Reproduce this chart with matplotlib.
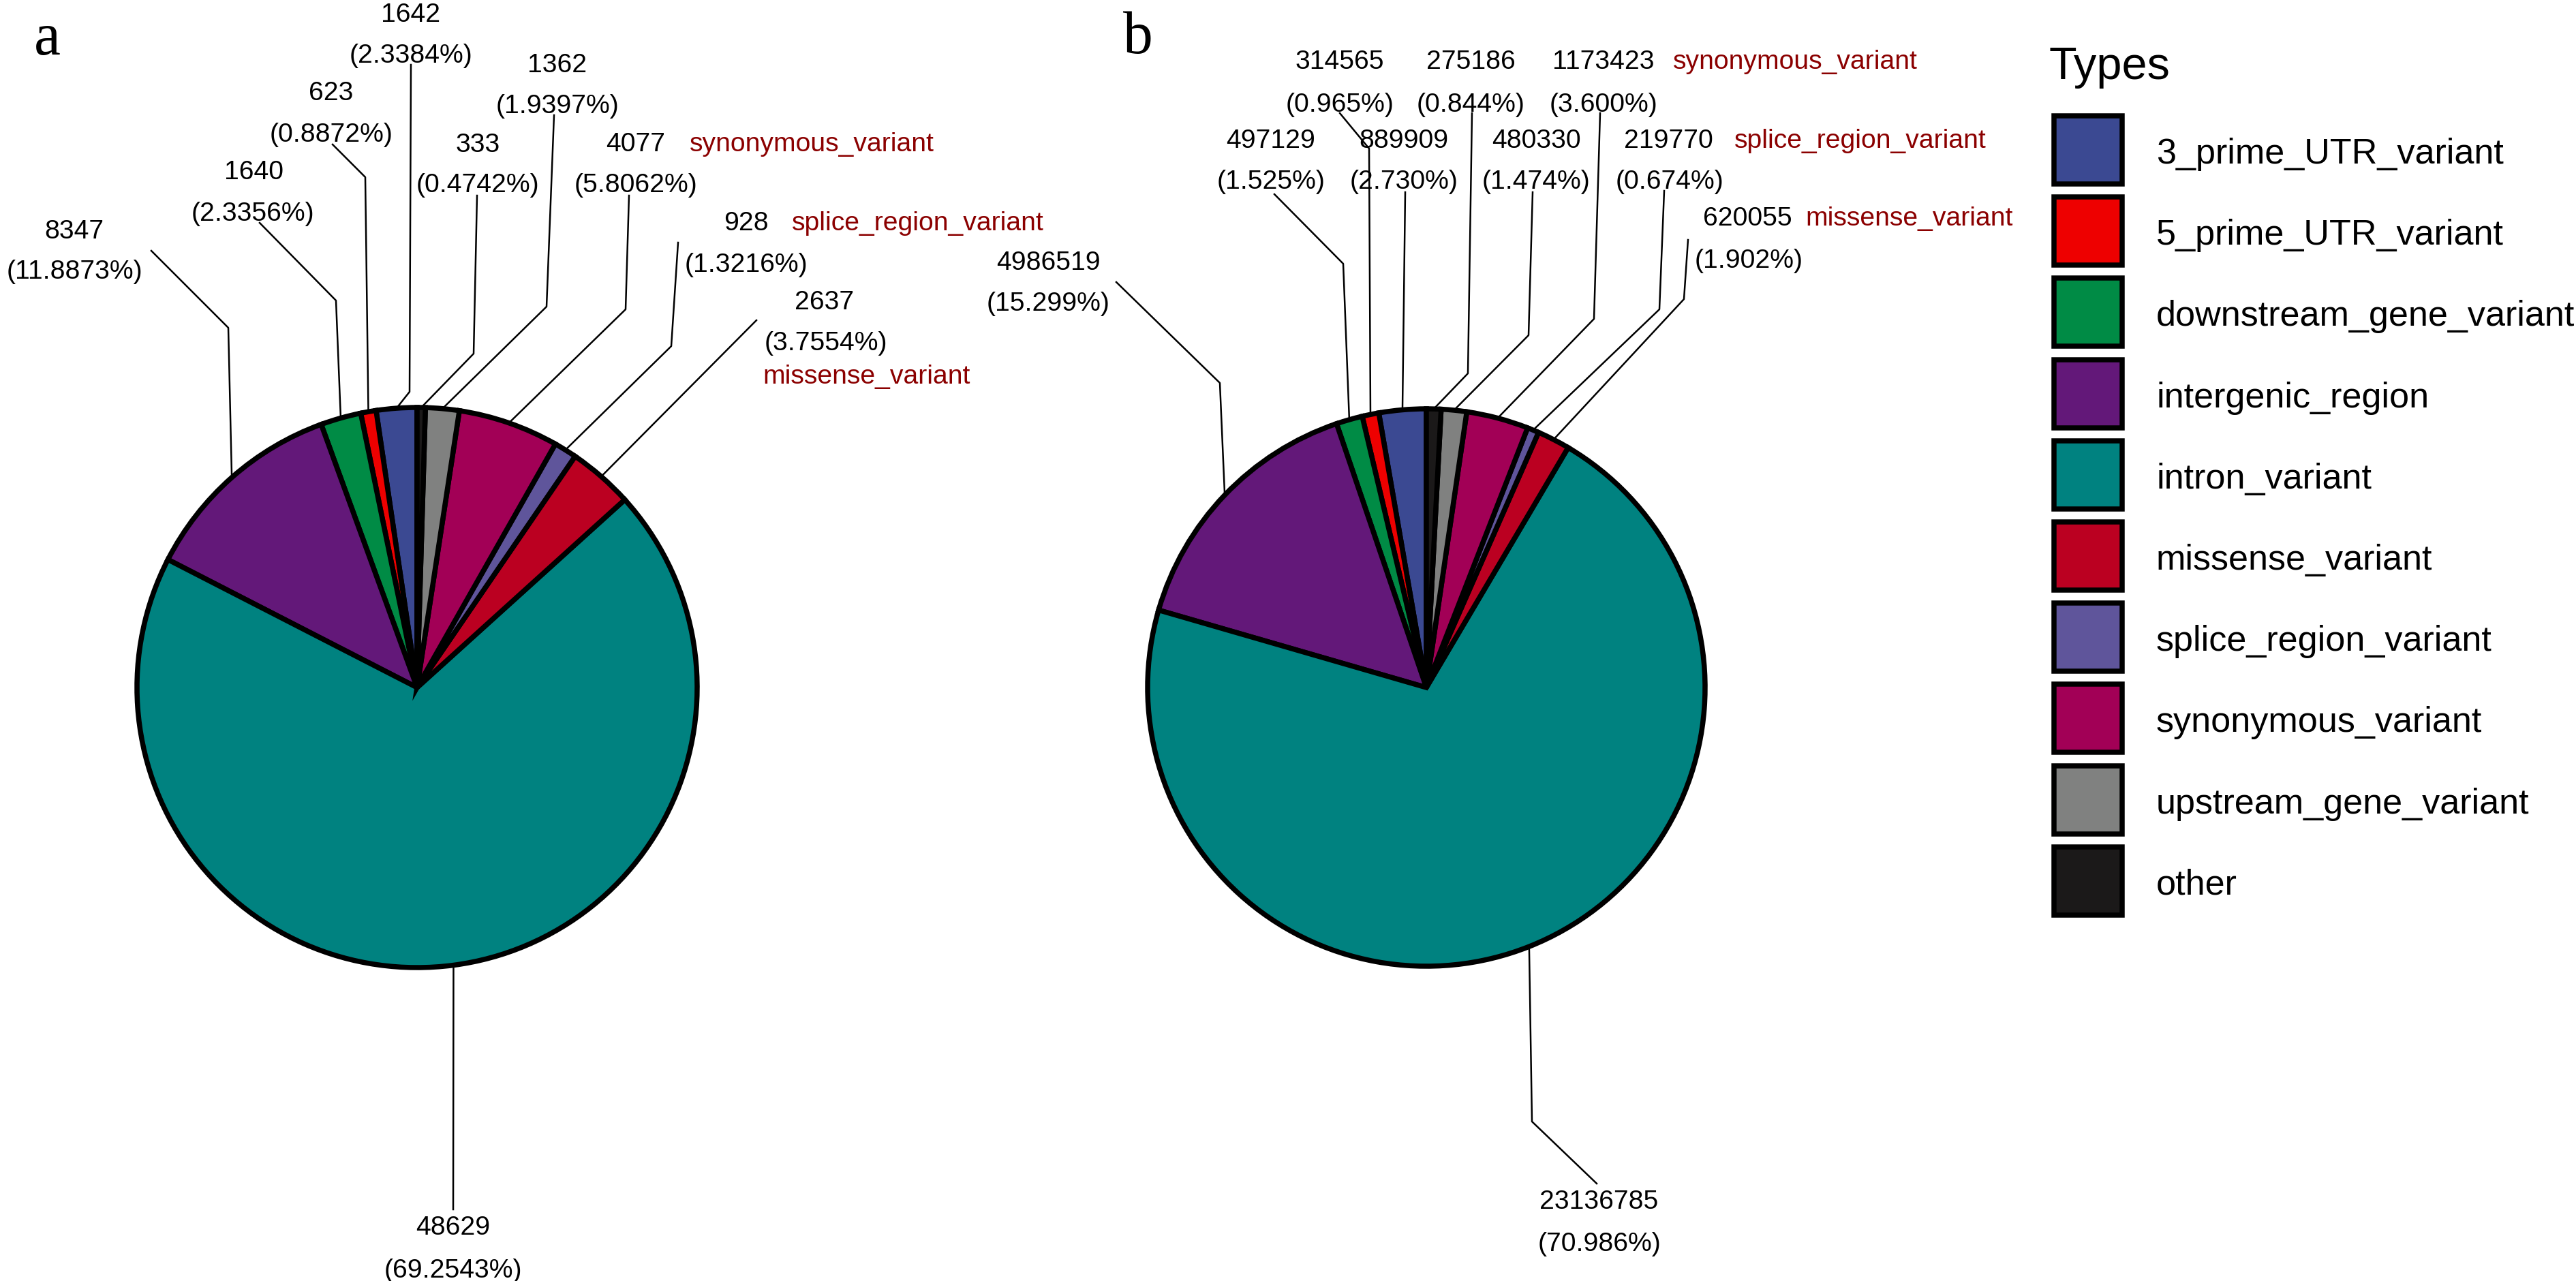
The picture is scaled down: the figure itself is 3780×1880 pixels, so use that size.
import numpy as np
import matplotlib.pyplot as plt
from matplotlib.patches import Rectangle

# ---- data -------------------------------------------------------------
types = ['3_prime_UTR_variant', '5_prime_UTR_variant', 'downstream_gene_variant',
         'intergenic_region', 'intron_variant', 'missense_variant',
         'splice_region_variant', 'synonymous_variant', 'upstream_gene_variant', 'other']
colors = ['#3B4992', '#EE0000', '#008B45', '#631879', '#008280',
          '#BB0021', '#5F559B', '#A20056', '#808180', '#1B1919']
counts_a = [1642, 623, 1640, 8347, 48629, 2637, 928, 4077, 1362, 333]
counts_b = [889909, 314565, 497129, 4986519, 23136785, 620055, 219770, 1173423, 480330, 275186]
highlight = ['missense_variant', 'splice_region_variant', 'synonymous_variant']

# ---- layout (pixel coords, y down) ------------------------------------
W, H = 3780, 1881
RED = '#8B0000'
LAB_FS = 9.4

pie_a = dict(center=(612, 1010), radius=411, letter='a', letter_xy=(50, 80), digits=4)
pie_b = dict(center=(2093, 1010), radius=409, letter='b', letter_xy=(1648, 78), digits=3)

# per slice: number centre, percent centre, bend points (from pie edge outwards)
lay_a = [
    ((603, 18), (603, 78), [(601, 576), (603, 96)]),
    ((486, 133), (486, 194), [(536, 261), (488, 213)]),
    ((372, 249), (371, 310), [(493, 442), (381, 328)]),
    ((109, 336), (109, 395), [(335, 482), (222, 369)]),
    ((665, 1798), (665, 1861), [(665, 1776)]),
    ((1210, 440), (1212, 500), [(1110, 471)]),
    ((1095, 324), (1095, 385), [(985, 509), (995, 357)]),
    ((933, 208), (933, 268), [(918, 455), (923, 288)]),
    ((818, 92), (818, 152), [(802, 451), (813, 170)]),
    ((701, 209), (701, 268), [(695, 520), (700, 288)]),
]
red_a = {'missense_variant': (1119, 549), 'splice_region_variant': (1162, 324),
         'synonymous_variant': (1012, 208)}

lay_b = [
    ((2060, 203), (2060, 263), [(2062, 283)]),
    ((1966, 87), (1966, 150), [(2009, 219), (1966, 167)]),
    ((1865, 203), (1865, 263), [(1971, 388), (1870, 286)]),
    ((1538, 382), (1538, 442), [(1790, 563), (1638, 415)]),
    ((2346, 1760), (2347, 1822), [(2248, 1647), (2343, 1738)]),
    ((2564, 317), (2566, 379), [(2471, 440), (2477, 353)]),
    ((2448, 203), (2450, 263), [(2435, 455), (2442, 281)]),
    ((2353, 87), (2353, 150), [(2339, 469), (2348, 167)]),
    ((2254, 203), (2254, 263), [(2243, 493), (2249, 283)]),
    ((2158, 87), (2158, 150), [(2154, 549), (2160, 167)]),
]
red_b = {'missense_variant': (2649, 317), 'splice_region_variant': (2545, 203),
         'synonymous_variant': (2455, 87)}

fig = plt.figure(figsize=(W / 300, H / 300), dpi=300)
ax = fig.add_axes([0, 0, 1, 1])


def Y(y):
    return H - y


def draw_pie(counts, cfg, lay, reds):
    cx, cy = cfg['center']
    r = cfg['radius']
    wedges, _ = ax.pie(counts, colors=colors, startangle=90, counterclock=True,
                       center=(cx, Y(cy)), radius=r,
                       wedgeprops=dict(edgecolor='black', linewidth=1.8))
    total = sum(counts)
    for i, w in enumerate(wedges):
        mid = np.deg2rad((w.theta1 + w.theta2) / 2)
        ex, ey = cx + r * np.cos(mid), Y(cy) + r * np.sin(mid)
        num_xy, pct_xy, bends = lay[i]
        xs = [ex] + [b[0] for b in bends]
        ys = [ey] + [Y(b[1]) for b in bends]
        ax.plot(xs, ys, color='black', lw=0.6, zorder=1)
        pct = 100 * counts[i] / total
        ax.text(num_xy[0], Y(num_xy[1]), str(counts[i]), ha='center', va='center_baseline',
                fontsize=LAB_FS, family='Liberation Sans')
        ax.text(pct_xy[0], Y(pct_xy[1]), '({:.{d}f}%)'.format(pct, d=cfg['digits']),
                ha='center', va='center_baseline', fontsize=LAB_FS, family='Liberation Sans')
        if types[i] in reds:
            rx, ry = reds[types[i]]
            ax.text(rx, Y(ry), types[i], ha='left', va='center_baseline', color=RED,
                    fontsize=LAB_FS, family='Liberation Sans')
    lx, ly = cfg['letter_xy']
    ax.text(lx, Y(ly), cfg['letter'], ha='left', va='baseline', fontsize=21,
            family='Liberation Serif')


draw_pie(counts_a, pie_a, lay_a, red_a)
draw_pie(counts_b, pie_b, lay_b, red_b)

# legend
ax.text(3007, Y(116), 'Types', ha='left', va='baseline', fontsize=16, family='Liberation Sans')
box, pitch, top0 = 100, 119.2, 171
for i, name in enumerate(types):
    top = top0 + i * pitch
    ax.add_patch(Rectangle((3014, Y(top + box)), box, box, facecolor=colors[i],
                           edgecolor='black', linewidth=1.8))
    ax.text(3164, Y(top + box / 2), name, ha='left', va='center_baseline',
            fontsize=12.5, family='Liberation Sans')

ax.set_xlim(0, W)
ax.set_ylim(0, H)
ax.set_aspect('auto')
ax.axis('off')

fig.savefig('out.png', dpi=300)
